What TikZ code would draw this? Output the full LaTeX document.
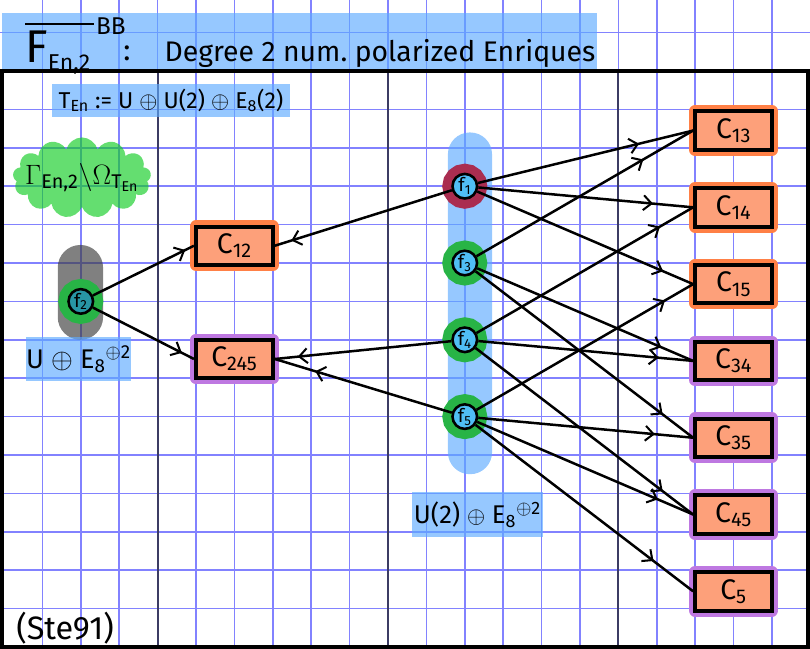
\documentclass[tikz,border=0pt]{standalone}
\usepackage{amsmath,amssymb}
\usepackage{fontspec}
\setmainfont{Fira Sans}
\usetikzlibrary{positioning, arrows.meta, decorations.markings, shapes.symbols}

\definecolor{gridblue}{RGB}{130,130,255}
\definecolor{griddark}{RGB}{60,60,100}
\definecolor{hlblue}{RGB}{93,170,255}
\definecolor{hlgreen}{RGB}{17,204,35}
\definecolor{hlgray}{RGB}{60,60,60}
\definecolor{boxfill}{RGB}{253,160,122}
\definecolor{gloworange}{RGB}{255,128,70}
\definecolor{glowpurple}{RGB}{190,120,225}
\definecolor{fcyan}{RGB}{80,190,245}
\definecolor{fteal}{RGB}{40,150,165}
\definecolor{ringgreen}{RGB}{40,180,70}
\definecolor{ringred}{RGB}{170,45,80}

\begin{document}
\begin{tikzpicture}[x=1cm, y=-1cm, node distance=2cm, on grid,
    hl/.style={fill=hlblue, fill opacity=0.65, text opacity=1, inner sep=0pt},
    cbox/.style={draw=black, line width=3pt, fill=boxfill, minimum width=2cm,
      minimum height=1cm, inner sep=0pt, font=\fontsize{21}{21}\selectfont,
      preaction={draw=#1, line width=9pt, line join=round}},
    fnode/.style={circle, draw=black, line width=1.9pt, fill=fcyan, minimum size=0.64cm,
      inner sep=0pt, font=\fontsize{14}{14}\selectfont,
      preaction={draw=#1, line width=15pt}},
    arrowat/.style={postaction={decorate}, decoration={markings,
      mark=at position #1 with {\arrow{Straight Barb[length=6pt,width=11pt,line width=1.5pt]}}}}]
  \useasboundingbox (-0.104,-1.849) rectangle (20.99,15.05);

  % grid paper
  \begin{scope}[gridblue, line width=1.1pt]
    \foreach \i in {1,...,20} \draw (\i,-1.85) -- (\i,15.05);
    \foreach \j in {-1,1,2,...,14} \draw (-0.1,\j) -- (21,\j);
  \end{scope}
  \foreach \i in {4,10,16} \draw[griddark, line width=1.5pt] (\i,0) -- (\i,15);

  % highlights
  \fill[hlblue, fill opacity=0.65] (-0.05,-1.5) rectangle (15.44,0);
  \fill[hlgray, fill opacity=0.65, rounded corners=0.59cm] (1.4,4.53) rectangle (2.58,7.0);
  \fill[hlblue, fill opacity=0.65, rounded corners=0.57cm] (11.56,1.6) rectangle (12.71,10.5);
  \node[cloud, cloud puffs=13, aspect=1.9, fill=hlgreen, fill opacity=0.65,
    minimum width=3.6cm, minimum height=2.1cm, inner sep=0pt] (blob) at (2.03,2.78) {};

  % title
  \node[anchor=base west, font=\fontsize{34}{34}\selectfont, inner sep=0pt] (Fbb) at (0.55,-0.23)
    {$\overline{\text{F}\hspace{1em}}^{\hspace{0.05em}\text{\fontsize{18}{18}\selectfont BB}}_{\hspace{-1em}\text{\fontsize{17}{17}\selectfont En,2}}$};
  \node[font=\fontsize{22}{22}\selectfont, inner sep=0pt] (colon) at (3.2,-0.45) {:};
  \node[anchor=base west, font=\fontsize{21}{21}\selectfont] (title) at (4.06,-0.26)
    {Degree 2 num.\ polarized Enriques};

  \node[hl, minimum width=6.2cm, minimum height=0.86cm, font=\fontsize{17}{17}\selectfont]
    (Ten) at (4.35,0.77) {T\textsubscript{En} := U $\oplus$ U(2) $\oplus$ E\textsubscript{8}(2)};
  \node[font=\fontsize{21}{21}\selectfont] (gamma) at (blob)
    {$\Gamma_{\text{En,2}}\backslash\Omega_{\text{T}_{\text{En}}}$};
  \node[hl, minimum width=2.52cm, minimum height=1.14cm, font=\fontsize{20}{20}\selectfont]
    (lat1) at (1.94,7.5) {U $\oplus$ E\textsubscript{8}\textsuperscript{$\oplus$2}};
  \node[hl, minimum width=3.42cm, minimum height=1.18cm, font=\fontsize{19}{19}\selectfont]
    (lat2) at (12.33,11.55) {U(2) $\oplus$ E\textsubscript{8}\textsuperscript{$\oplus$2}};
  \node[font=\fontsize{24}{24}\selectfont] (ref) at (1.59,14.5) {(Ste91)};

  % vertices
  \node[fnode=ringgreen, fill=fteal] (f2) at (2,6) {f\textsubscript{2}};
  \node[fnode=ringred] (f1) at (12,3) {f\textsubscript{1}};
  \node[fnode=ringgreen] (f3) [below=of f1] {f\textsubscript{3}};
  \node[fnode=ringgreen] (f4) [below=of f3] {f\textsubscript{4}};
  \node[fnode=ringgreen] (f5) [below=of f4] {f\textsubscript{5}};

  % cusps
  \node[cbox=gloworange] (C12) at (6,4.55) {C\textsubscript{12}};
  \node[cbox=glowpurple] (C245) at (6,7.5) {C\textsubscript{245}};
  \node[cbox=gloworange] (C13) at (19,1.55) {C\textsubscript{13}};
  \node[cbox=gloworange] (C14) [below=of C13] {C\textsubscript{14}};
  \node[cbox=gloworange] (C15) [below=of C14] {C\textsubscript{15}};
  \node[cbox=glowpurple] (C34) [below=of C15] {C\textsubscript{34}};
  \node[cbox=glowpurple] (C35) [below=of C34] {C\textsubscript{35}};
  \node[cbox=glowpurple] (C45) [below=of C35] {C\textsubscript{45}};
  \node[cbox=glowpurple] (C5) [below=of C45] {C\textsubscript{5}};

  \path[draw, line width=1.85pt]
    (f2) edge[arrowat=-0.25cm] (C12.west)
    (f2) edge[arrowat=-0.35cm] (C245.west)
    (f1) edge[arrowat=-0.45cm] (C12.east)
    (f4) edge[arrowat=-0.6cm] (C245.east)
    (f5) edge[arrowat=-1.1cm] (C245.east)
    (f1) edge[arrowat=-1.45cm] (C13.west)
    (f3) edge[arrowat=-1.5cm] (C13.west)
    (f1) edge[arrowat=-1.05cm] (C14.west)
    (f4) edge[arrowat=-1cm] (C14.west)
    (f1) edge[arrowat=-0.85cm] (C15.west)
    (f5) edge[arrowat=-0.85cm] (C15.west)
    (f3) edge[arrowat=-0.9cm] (C34.west)
    (f4) edge[arrowat=-0.9cm] (C34.west)
    (f3) edge[arrowat=-1cm] (C35.west)
    (f5) edge[arrowat=-1cm] (C35.west)
    (f4) edge[arrowat=-1cm] (C45.west)
    (f5) edge[arrowat=-1cm] (C45.west)
    (f5) edge[arrowat=-1.3cm] (C5.west)
    ;

  % frame
  \draw[line width=3pt] (-0.05,0) rectangle (20.94,15);
\end{tikzpicture}
\end{document}
